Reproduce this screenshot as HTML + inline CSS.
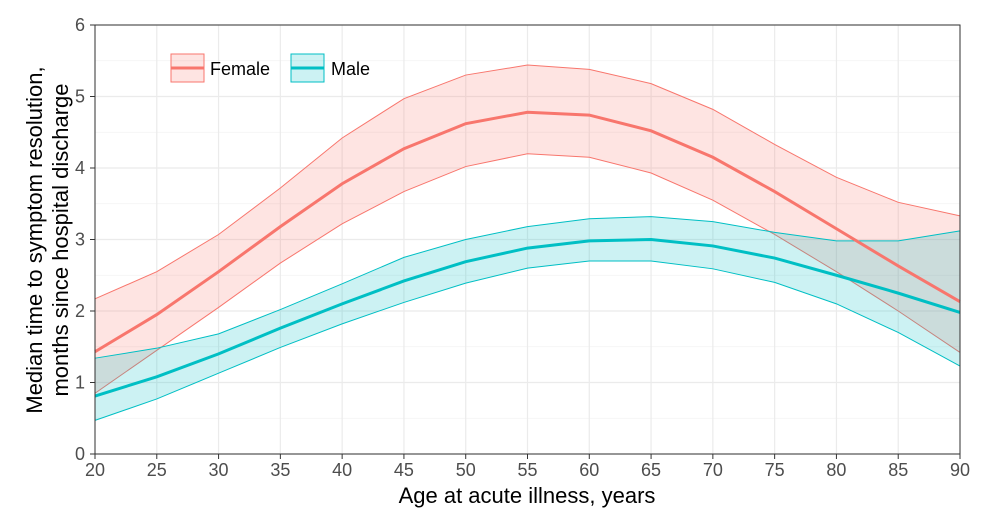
<!DOCTYPE html>
<html><head><meta charset="utf-8"><style>
body{margin:0;background:#fff;}
svg{font-family:"Liberation Sans",Arial,sans-serif;display:block}
</style></head><body>
<svg width="991" height="523" viewBox="0 0 991 523">
<g id="grid"></g>
<g id="bands"></g>
<g id="lines"></g>
<rect x="95" y="25" width="865" height="429" fill="none" stroke="#333" stroke-width="1"/>
<g id="xticks"></g>
<g id="yticks"></g>
<text x="527" y="503" font-size="22" text-anchor="middle" fill="#000">Age at acute illness, years</text>
<text transform="translate(42,240) rotate(-90)" font-size="22" text-anchor="middle" fill="#000"><tspan x="0" dy="0">Median time to symptom resolution,</tspan><tspan x="0" dy="26">months since hospital discharge</tspan></text>
<g>
<g>
<rect x="171" y="54" width="33" height="28" fill="#F8766D" fill-opacity="0.2" stroke="#F8766D"/>
<line x1="171" y1="68" x2="204" y2="68" stroke="#F8766D" stroke-width="3"/>
<text x="210" y="75" font-size="18" fill="#000">Female</text></g>
<g>
<rect x="291" y="54" width="33" height="28" fill="#00BFC4" fill-opacity="0.2" stroke="#00BFC4"/>
<line x1="291" y1="68" x2="324" y2="68" stroke="#00BFC4" stroke-width="3"/>
<text x="331" y="75" font-size="18" fill="#000">Male</text></g>
</g>
</svg>
<script>
const ages=[20,25,30,35,40,45,50,55,60,65,70,75,80,85,90];
const femaleMedian=[1.43,1.95,2.55,3.18,3.78,4.27,4.62,4.78,4.74,4.52,4.15,3.67,3.15,2.63,2.13];
const femaleUpper=[2.17,2.55,3.07,3.72,4.42,4.97,5.30,5.44,5.38,5.18,4.82,4.33,3.87,3.52,3.33];
const femaleLower=[0.85,1.45,2.05,2.67,3.22,3.67,4.02,4.20,4.15,3.93,3.55,3.07,2.55,2.00,1.42];
const maleMedian=[0.81,1.08,1.40,1.76,2.10,2.42,2.69,2.88,2.98,3.00,2.91,2.74,2.50,2.25,1.98];
const maleUpper=[1.34,1.48,1.68,2.02,2.38,2.75,3.00,3.18,3.29,3.32,3.25,3.10,2.98,2.98,3.12];
const maleLower=[0.47,0.77,1.13,1.49,1.82,2.12,2.39,2.60,2.70,2.70,2.59,2.40,2.10,1.70,1.23];
const xTicks=[20,25,30,35,40,45,50,55,60,65,70,75,80,85,90];
const yTicks=[0,1,2,3,4,5,6];
const NS='http://www.w3.org/2000/svg';
const X=v=>95+(v-20)/70*865;
const Y=v=>454-v/6*429;
function mk(p,t,a){const e=document.createElementNS(NS,t);for(const k in a)e.setAttribute(k,a[k]);document.getElementById(p).appendChild(e);return e;}
for(let v=0.5;v<6;v+=1){const l=mk('grid','line',{x1:95,x2:960,y1:Y(v),y2:Y(v),stroke:'#f2f2f2','stroke-width':0.7});

}
yTicks.forEach(v=>{const l=mk('grid','line',{x1:95,x2:960,y1:Y(v),y2:Y(v),stroke:'#ebebeb','stroke-width':1.2});


const t=mk('yticks','text',{x:85,y:Y(v)+6,'font-size':18,'text-anchor':'end',fill:'#4d4d4d'});t.textContent=v;


mk('yticks','line',{x1:90,x2:95,y1:Y(v),y2:Y(v),stroke:'#333'});});
xTicks.forEach(v=>{const l=mk('grid','line',{x1:X(v),x2:X(v),y1:25,y2:454,stroke:'#ebebeb','stroke-width':1.2});


const t=mk('xticks','text',{x:X(v),y:476,'font-size':18,'text-anchor':'middle',fill:'#4d4d4d'});t.textContent=v;


mk('xticks','line',{x1:X(v),x2:X(v),y1:454,y2:459,stroke:'#333'});});
function band(up,lo,col,name){
 let d='M'+ages.map((a,i)=>X(a)+','+Y(up[i])).join('L');
 d+='L'+ages.map((a,i)=>X(a)+','+Y(lo[i])).reverse().join('L')+'Z';
 const p=mk('bands','path',{d:d,fill:col,'fill-opacity':0.2,stroke:'none'});
 
 
 [up,lo].forEach(s=>{const q=mk('bands','polyline',{points:ages.map((a,i)=>X(a)+','+Y(s[i])).join(' '),fill:'none',stroke:col,'stroke-width':1});
 
 });
}
function line(m,col,name){const q=mk('lines','polyline',{points:ages.map((a,i)=>X(a)+','+Y(m[i])).join(' '),fill:'none',stroke:col,'stroke-width':3});
 
 }
band(femaleUpper,femaleLower,'#F8766D','female');
band(maleUpper,maleLower,'#00BFC4','male');
line(femaleMedian,'#F8766D','female');
line(maleMedian,'#00BFC4','male');
</script>
</body></html>
